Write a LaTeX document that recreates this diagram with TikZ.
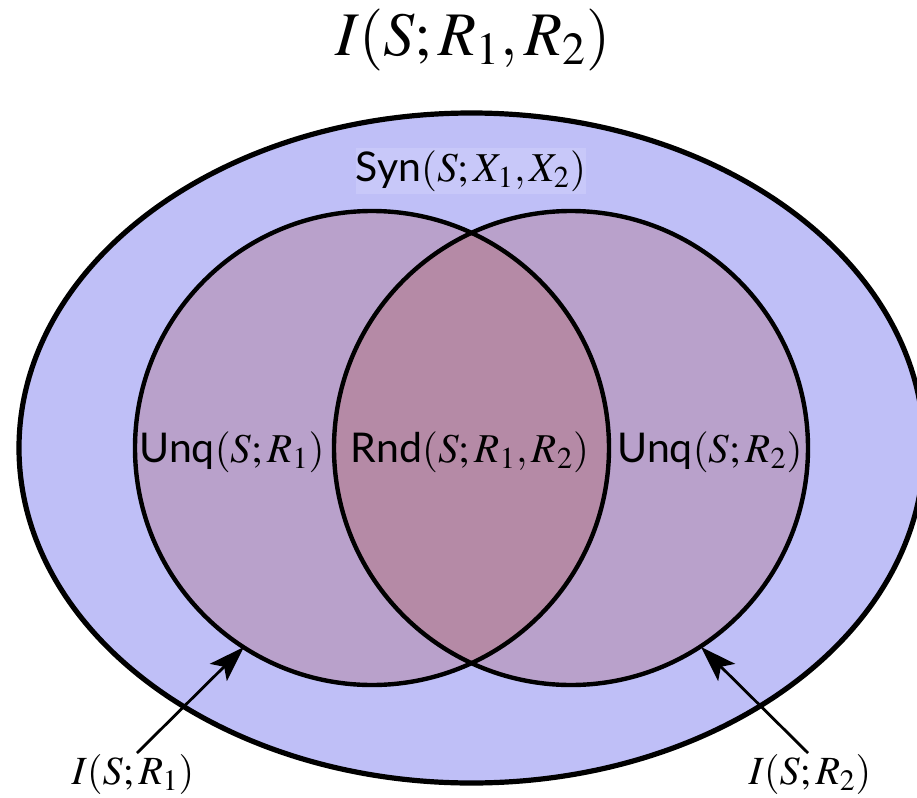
\documentclass[tikz,border=0pt]{standalone}
\usepackage{mathptmx}
\usepackage[no-math]{fontspec}
\newfontfamily\gsans{Lato}
\usetikzlibrary{arrows.meta}
\definecolor{outerfill}{RGB}{191,191,247}
\definecolor{synfill}{RGB}{200,200,249}
\definecolor{circfill}{RGB}{185,161,203}
\definecolor{capfill}{RGB}{181,138,166}
\tikzset{
  lbl/.style={inner sep=0pt, font=\fontsize{20.5}{24}\selectfont},
  blbl/.style={inner sep=0pt, font=\fontsize{20}{24}\selectfont},
  ttl/.style={inner sep=0pt, font=\fontsize{31}{36}\selectfont},
  arr/.style={line width=1.4pt, -{Stealth[length=18pt,width=12pt,inset=4pt]}},
}
\begin{document}
\begin{tikzpicture}[x=0.5pt,y=-0.5pt]
\useasboundingbox (0,0) rectangle (917,798);
% outer ellipse
\path[fill=outerfill] (471.5,448) ellipse [x radius=452.5, y radius=335];
% circles
\path[fill=circfill] (372,448) circle [radius=237];
\path[fill=circfill] (571,448) circle [radius=237];
\begin{scope}
  \clip (372,448) circle [radius=237];
  \path[fill=capfill] (571,448) circle [radius=237];
\end{scope}
\draw[line width=2.2pt] (372,448) circle [radius=237];
\draw[line width=2.2pt] (571,448) circle [radius=237];
\draw[line width=2.6pt] (471.5,448) ellipse [x radius=452.5, y radius=335];
% syn label box
\node[lbl, fill=synfill, minimum width=113.5pt, minimum height=23pt] (syn) at (471,171) {{\gsans Syn}$(S;X_1,X_2)$};
% labels
\node[lbl] (unq1) at (232,452) {{\gsans Unq}$(S;R_1)$};
\node[lbl] (rnd) at (470,452) {{\gsans Rnd}$(S;R_1,R_2)$};
\node[lbl] (unq2) at (710,452) {{\gsans Unq}$(S;R_2)$};
% title
\node[ttl] (title) at (473,40) {$I(S;R_1,R_2)$};
% bottom labels
\node[blbl] (i1) at (133,774) {$I(S;R_1)$};
\node[blbl] (i2) at (810,774) {$I(S;R_2)$};
\coordinate (a1) at (137,753);
\coordinate (t1) at (244,647);
\coordinate (a2) at (808,753);
\coordinate (t2) at (701,647);
\draw[arr] (a1) -- (t1);
\draw[arr] (a2) -- (t2);
\end{tikzpicture}
\end{document}
